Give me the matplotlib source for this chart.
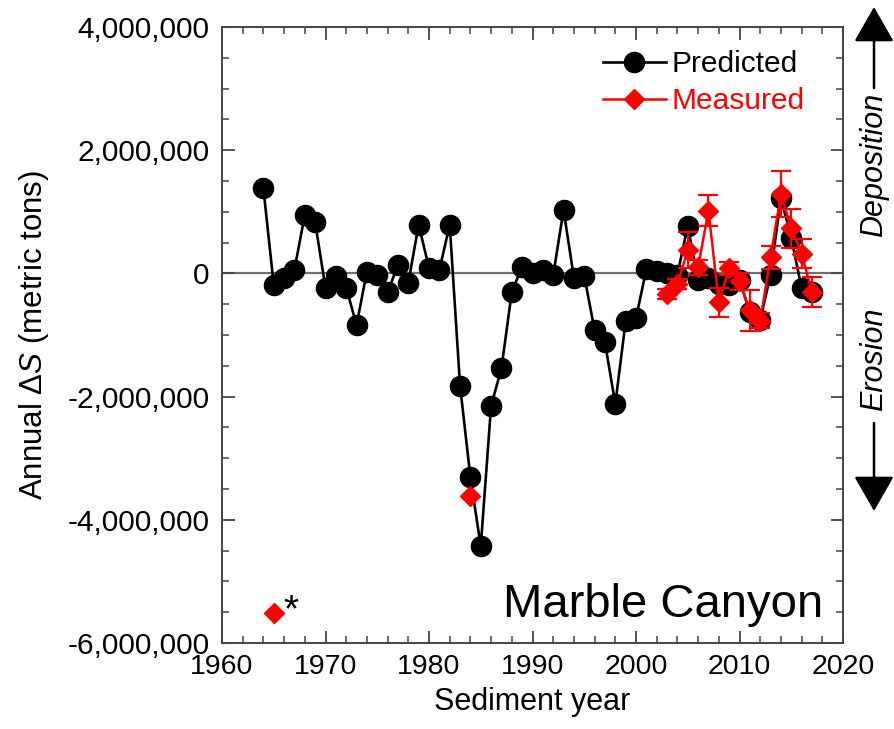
import matplotlib
matplotlib.use("Agg")
import matplotlib.pyplot as plt
from matplotlib.ticker import MultipleLocator, FuncFormatter
from matplotlib.lines import Line2D

plt.rcParams['font.family'] = ['Liberation Sans', 'DejaVu Sans']
plt.rcParams['mathtext.fontset'] = 'custom'
plt.rcParams['mathtext.rm'] = 'Liberation Sans'
plt.rcParams['mathtext.it'] = 'Liberation Sans:italic'

# ---------------- data ----------------
pred_years = list(range(1964, 2018))
pred_values = [1380000, -190000, -80000, 60000, 950000, 830000, -240000, -40000,
               -230000, -840000, 30000, -20000, -310000, 140000, -150000, 790000,
               90000, 50000, 790000, -1820000, -3310000, -4430000, -2150000,
               -1540000, -300000, 110000, 0, 50000, -30000, 1030000, -70000,
               -40000, -920000, -1120000, -2120000, -780000, -730000, 70000,
               40000, 0, -20000, 770000, -110000, -70000, -180000, -190000,
               -110000, -630000, -760000, -20000, 1220000, 580000, -240000, -300000]

meas_years = list(range(2003, 2018))
meas_values = [-330000, -170000, 380000, 100000, 1020000, -470000, 80000, -130000,
               -600000, -770000, 260000, 1290000, 730000, 320000, -300000]
meas_errors = [80000, 80000, 300000, 120000, 250000, 240000, 100000, 140000,
               330000, 120000, 190000, 380000, 320000, 240000, 240000]

early_meas_years = [1965, 1984]
early_meas_values = [-5520000, -3620000]

x_ticks = [1960, 1970, 1980, 1990, 2000, 2010, 2020]
y_ticks = [-6000000, -4000000, -2000000, 0, 2000000, 4000000]

RED = '#ff0000'

# ---------------- figure ----------------
fig = plt.figure(figsize=(8.94, 7.29), dpi=100)
ax = fig.add_axes([222/894, 1-643/729, (843-222)/894, (643-27)/729])

ax.axhline(0, color='#707070', lw=1.6, zorder=1)

ax.plot(pred_years, pred_values, '-o', color='black', lw=1.9, ms=14.5, zorder=3)
ax.errorbar(meas_years, meas_values, yerr=meas_errors, fmt='-D', color=RED,
            ecolor=RED, elinewidth=1.6, capsize=7, capthick=1.6, lw=1.8,
            ms=10, zorder=4)
ax.plot(early_meas_years, early_meas_values, 'D', color=RED, ms=10,
        linestyle='none', zorder=4)

ax.text(1965.9, -5650000, '*', fontsize=28, ha='left', va='baseline', color='black')

ax.set_xlim(1960, 2020)
ax.set_ylim(-6000000, 4000000)
ax.set_xticks(x_ticks)
ax.set_yticks(y_ticks)
ax.xaxis.set_minor_locator(MultipleLocator(2))
ax.yaxis.set_minor_locator(MultipleLocator(500000))
ax.yaxis.set_major_formatter(FuncFormatter(lambda v, p: f'{v:,.0f}'))

ax.tick_params(which='both', direction='in', top=True, right=True, color='#444444')
ax.tick_params(which='major', length=9, width=1.3)
ax.tick_params(which='minor', length=5, width=1.1)
ax.tick_params(axis='x', labelsize=20.5, pad=8)
ax.tick_params(axis='y', labelsize=21.5, pad=9)
for s in ax.spines.values():
    s.set_color('#444444')
    s.set_linewidth(1.4)

ax.set_xlabel('Sediment year', fontsize=22, labelpad=5)
ax.set_ylabel(r'Annual $\Delta S$ (metric tons)', fontsize=22.5, labelpad=12)

handles = [Line2D([], [], color='black', marker='o', ms=14.5, lw=1.9),
           Line2D([], [], color=RED, marker='D', ms=10, lw=1.8)]
leg = ax.legend(handles, ['Predicted', 'Measured'], loc='upper left',
                bbox_to_anchor=(0.6135, 0.962), frameon=False,
                fontsize=21.5, handlelength=2.1, handletextpad=0.2,
                labelspacing=0.3, borderpad=0, borderaxespad=0)
leg.get_texts()[1].set_color(RED)

ax.text(0.968, 0.042, 'Marble Canyon', transform=ax.transAxes, fontsize=34,
        ha='right', va='baseline')

# Right-side deposition / erosion annotations
xa = (874-222)/621
arrow = dict(arrowstyle='-|>,head_length=1.1,head_width=0.63',
             mutation_scale=20, color='black', lw=1.8, shrinkA=0, shrinkB=0)
ax.annotate('', xy=(xa, (643-7)/616), xytext=(xa, (643-88)/616),
            xycoords='axes fraction', textcoords='axes fraction',
            arrowprops=arrow, annotation_clip=False)
ax.annotate('', xy=(xa, (643-511)/616), xytext=(xa, (643-423)/616),
            xycoords='axes fraction', textcoords='axes fraction',
            arrowprops=arrow, annotation_clip=False)
ax.text(xa, (643-165)/616, 'Deposition', transform=ax.transAxes, rotation=90,
        fontsize=22, style='italic', ha='center', va='center', clip_on=False)
ax.text(xa, (643-359)/616, 'Erosion', transform=ax.transAxes, rotation=90,
        fontsize=22, style='italic', ha='center', va='center', clip_on=False)

fig.savefig('out.png', dpi=100)
